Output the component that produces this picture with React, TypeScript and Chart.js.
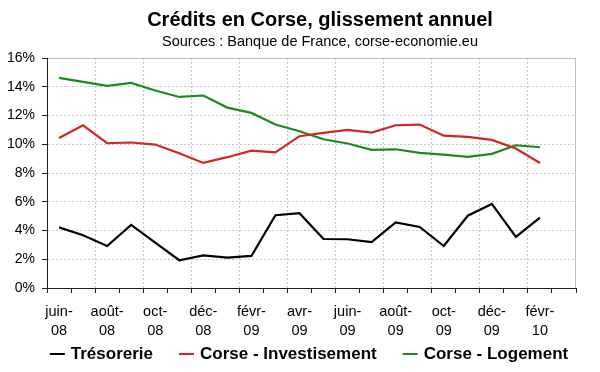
import React, { useEffect, useRef } from 'react';
import { Chart, registerables } from 'chart.js';

Chart.register(...registerables);

const months = [
  'juin-08', 'juil-08', 'août-08', 'sept-08', 'oct-08', 'nov-08', 'déc-08',
  'janv-09', 'févr-09', 'mars-09', 'avr-09', 'mai-09', 'juin-09', 'juil-09',
  'août-09', 'sept-09', 'oct-09', 'nov-09', 'déc-09', 'janv-10', 'févr-10', 'mars-10',
];

const tresorerie = [4.22, 3.67, 2.92, 4.39, 3.16, 1.93, 2.27, 2.12, 2.23, 5.06, 5.2, 3.41, 3.39, 3.2, 4.57, 4.25, 2.92, 5.03, 5.85, 3.55, 4.9];
const investissement = [10.44, 11.32, 10.07, 10.12, 9.98, 9.37, 8.7, 9.1, 9.56, 9.44, 10.56, 10.79, 11.0, 10.81, 11.32, 11.37, 10.6, 10.51, 10.3, 9.7, 8.7];
const logement = [14.62, 14.34, 14.06, 14.27, 13.74, 13.29, 13.39, 12.55, 12.18, 11.37, 10.9, 10.35, 10.05, 9.61, 9.65, 9.4, 9.28, 9.12, 9.33, 9.93, 9.79];

const seriesNames = ['Trésorerie', 'Corse - Investisement', 'Corse - Logement'];
const seriesColors = ['#000000', '#d42424', '#1e8a1e'];

const yMin = 0;
const yMax = 16;
const yStep = 2;

const titleText = 'Crédits en Corse, glissement annuel';
const subtitleText = 'Sources : Banque de France, corse-economie.eu';

const FONT = '"Liberation Sans", Arial, sans-serif';

const decorPlugin = {
  id: 'decor',
  beforeDraw(chart: any) {
    const { ctx, chartArea: a } = chart;
    ctx.save();
    ctx.fillStyle = '#ffffff';
    ctx.fillRect(0, 0, chart.width, chart.height);
    ctx.strokeStyle = '#bdbdbd';
    ctx.lineWidth = 1;
    ctx.strokeRect(
      Math.round(a.left) + 0.5,
      Math.round(a.top) + 0.5,
      Math.round(a.right - a.left) - 1,
      Math.round(a.bottom - a.top)
    );
    ctx.restore();
  },
  afterDraw(chart: any) {
    const { ctx } = chart;
    ctx.save();
    ctx.fillStyle = '#000';
    ctx.textAlign = 'center';
    ctx.textBaseline = 'middle';
    ctx.font = `bold 20px ${FONT}`;
    ctx.fillText(titleText, 320, 20);
    ctx.font = `14.5px ${FONT}`;
    ctx.fillText(subtitleText, 320, 42);

    // legend
    ctx.font = `bold 17px ${FONT}`;
    const lineLen = 15;
    const gap = 6;
    const spacing = 26;
    const items = chart.data.datasets.map((d: any) => ({
      text: d.label,
      color: d.borderColor,
      w: lineLen + gap + ctx.measureText(d.label).width,
    }));
    const total = items.reduce((s: number, it: any) => s + it.w, 0) + spacing * (items.length - 1);
    let x = 309 - total / 2;
    const y = 354;
    ctx.textAlign = 'left';
    items.forEach((it: any) => {
      ctx.strokeStyle = it.color;
      ctx.lineWidth = 2;
      ctx.beginPath();
      ctx.moveTo(x, y);
      ctx.lineTo(x + lineLen, y);
      ctx.stroke();
      ctx.fillStyle = '#000';
      ctx.fillText(it.text, x + lineLen + gap, y);
      x += it.w + spacing;
    });
    ctx.restore();
  },
};

export default function App() {
  const ref = useRef<HTMLCanvasElement | null>(null);

  useEffect(() => {
    if (!ref.current) return;
    Chart.defaults.font.family = FONT;
    const values = [tresorerie, investissement, logement];
    const chart = new Chart(ref.current, {
      type: 'line',
      data: {
        labels: months,
        datasets: values.map((v, i) => ({
          label: seriesNames[i],
          data: v,
          borderColor: seriesColors[i],
          backgroundColor: seriesColors[i],
          borderWidth: 2.2,
          pointRadius: 0,
          tension: 0,
          fill: false,
        })),
      },
      options: {
        responsive: false,
        animation: false,
        events: [],
        layout: { padding: { top: 58, left: 0, right: 24, bottom: 0 } },
        plugins: {
          legend: { display: false },
          title: { display: false },
          tooltip: { enabled: false },
        },
        scales: {
          x: {
            type: 'category',
            offset: true,
            afterFit: (scale: any) => {
              scale.height = 84;
            },
            grid: {
              offset: true,
              color: (c: any) => (typeof c.index === 'number' && c.index > 0 && c.index % 2 === 0 ? '#c4c4c4' : 'rgba(0,0,0,0)'),
              lineWidth: 1,
              drawTicks: true,
              tickLength: 5,
              tickColor: '#222',
              tickWidth: 1,
            },
            border: { display: true, color: '#222', width: 1, dash: [2, 2] },
            ticks: {
              autoSkip: false,
              maxRotation: 0,
              minRotation: 0,
              padding: 10,
              color: '#000',
              font: { size: 14.5, lineHeight: 1.27 },
              callback: (_v: any, idx: number) => {
                if (idx % 2 !== 0) return '';
                const parts = months[idx].split('-');
                return [parts[0] + '-', parts[1]];
              },
            },
          },
          y: {
            min: yMin,
            max: yMax,
            afterFit: (scale: any) => {
              scale.width = 47;
            },
            grid: {
              color: (c: any) => (typeof c.index === 'number' && c.index > 0 ? '#c4c4c4' : 'rgba(0,0,0,0)'),
              lineWidth: 1,
              drawTicks: true,
              tickLength: 5,
              tickColor: '#222',
              tickWidth: 1,
            },
            border: { display: true, color: '#222', width: 1, dash: [2, 2] },
            ticks: {
              stepSize: yStep,
              padding: 7,
              color: '#000',
              font: { size: 14 },
              callback: (v: any) => `${v}%`,
            },
          },
        },
      },
      plugins: [decorPlugin],
    });
    return () => chart.destroy();
  }, []);

  return (
    <div style={{ position: 'fixed', left: 0, top: 0, width: 600, height: 372 }}>
      <canvas ref={ref} width={600} height={372} style={{ width: 600, height: 372, display: 'block' }} />
    </div>
  );
}
